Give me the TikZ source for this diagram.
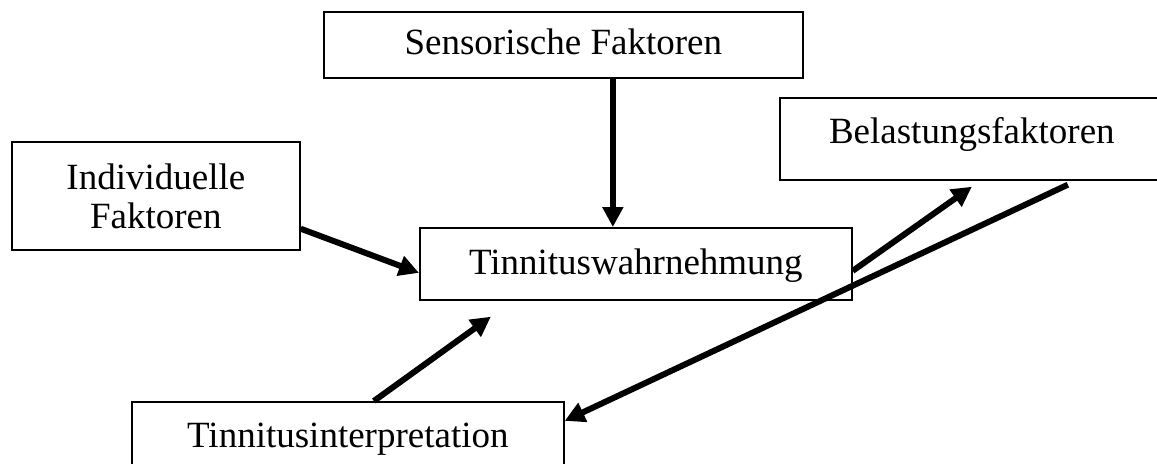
\documentclass[tikz,border=0pt]{standalone}
\usepackage{fontspec}
\setmainfont{Liberation Serif}
\usetikzlibrary{arrows.meta}
\begin{document}
\begin{tikzpicture}[x=0.5pt,y=-0.5pt,
  box/.style={draw, line width=0.85pt, inner sep=0pt, anchor=north west,
    font=\fontsize{18.5pt}{19.5pt}\selectfont},
  one/.style={text height=12.25pt},
  conn/.style={line width=3pt, -{Triangle[length=10pt,width=10pt]}}
]
\clip (0,0) rectangle (1157,463);
\fill[white] (0,0) rectangle (1157,463);
\node[box, one, minimum width=239.5pt, minimum height=33pt, text depth=3pt] (sens) at (323,11) {Sensorische Faktoren};
\node[box, one, minimum width=192pt, minimum height=41pt, text depth=8pt] (belast) at (779,97) {Belastungsfaktoren};
\node[box, minimum width=144pt, minimum height=54pt, align=center] (indiv) at (11,141) {Individuelle\\Faktoren};
\node[box, one, minimum width=216pt, minimum height=36pt, text depth=1.8pt] (wahr) at (419,227) {Tinnituswahrnehmung};
\node[box, one, minimum width=216pt, minimum height=36.5pt, text depth=3.5pt] (interp) at (131,401) {Tinnitusinterpretation};
\coordinate (a1e) at ([xshift=-11.5pt]wahr.north);
\draw[conn] (sens.south -| a1e) -- (a1e);
\draw[conn] ([yshift=11pt]indiv.south east) -- ([yshift=-4.5pt]wahr.west);
\draw[conn] ([yshift=-3.5pt]wahr.east) -- ([yshift=-3pt]belast.south);
\draw[conn] ([xshift=48pt,yshift=-2pt]belast.south) -- ([yshift=8.75pt]interp.east);
\draw[conn] ([xshift=13pt]interp.north) -- ([xshift=-72.5pt,yshift=-8pt]wahr.south);
\end{tikzpicture}
\end{document}
